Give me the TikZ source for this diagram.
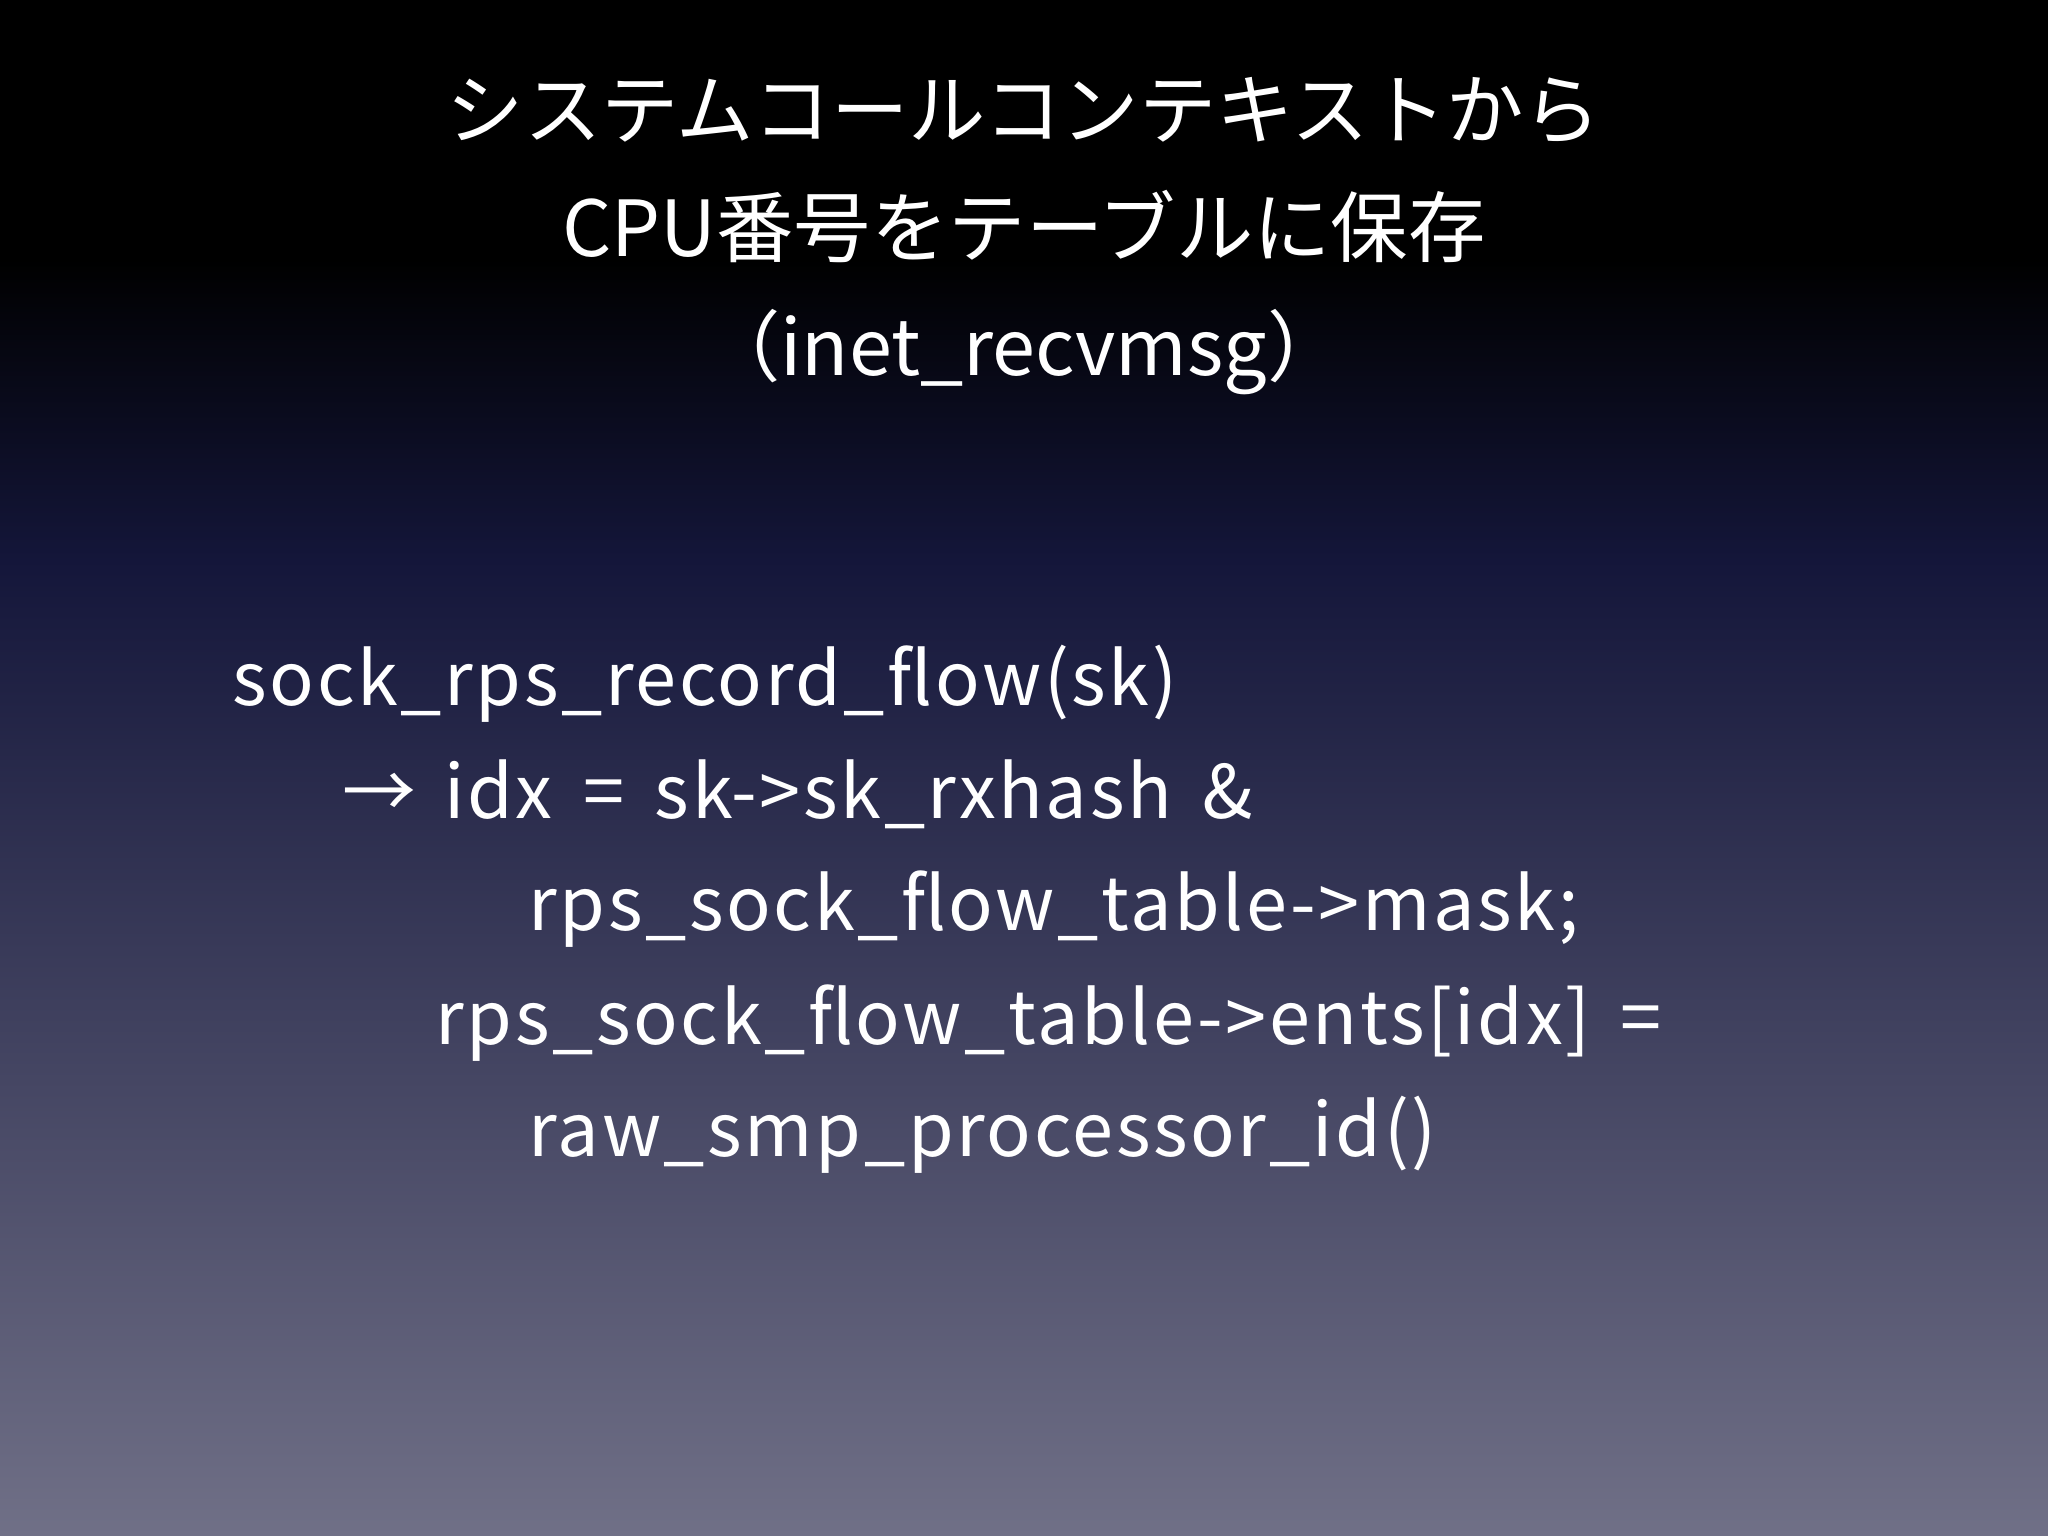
\documentclass[tikz,border=0pt]{standalone}
\usepackage{fontspec}
\setmainfont{Noto Sans CJK JP}
\newfontfamily\bodyfont[LetterSpace=3.5,WordSpace=1.6]{Noto Sans CJK JP}
\begin{document}
\begin{tikzpicture}[x=0.01cm,y=-0.01cm,
  ttl/.style={text=white,font=\fontsize{22pt}{26pt}\selectfont,anchor=base,inner sep=0},
  body/.style={text=white,font=\bodyfont\fontsize{21pt}{25pt}\selectfont,anchor=base west,inner sep=0}]
\shade[top color=black,bottom color=black!0!black,middle color=black] (0,0) rectangle (2048,260);
\shade[top color=black,bottom color={rgb,255:red,20;green,22;blue,58}] (0,259) rectangle (2048,560);
\shade[top color={rgb,255:red,20;green,22;blue,58},bottom color={rgb,255:red,112;green,112;blue,135}] (0,559) rectangle (2048,1536);
\useasboundingbox (0,0) rectangle (2048,1536);
\node[ttl] (t1) at (1024,138) {システムコールコンテキストから};
\node[ttl] (t2) at (1024,256) {CPU番号をテーブルに保存};
\node[ttl] (t3) at (1024,375) {（inet\_recvmsg）};
\node[body] (l1) at (232,705) {sock\_rps\_record\_flow(sk)};
\node[body] (l2a) at (342,818) {→};
\node[body] (l2) at (444,818) {idx = sk->sk\_rxhash \&};
\node[body] (l3) at (528,930) {rps\_sock\_flow\_table->mask;};
\node[body] (l4) at (435,1044) {rps\_sock\_flow\_table->ents[idx] =};
\node[body] (l5) at (528,1156) {raw\_smp\_processor\_id()};
\end{tikzpicture}
\end{document}
